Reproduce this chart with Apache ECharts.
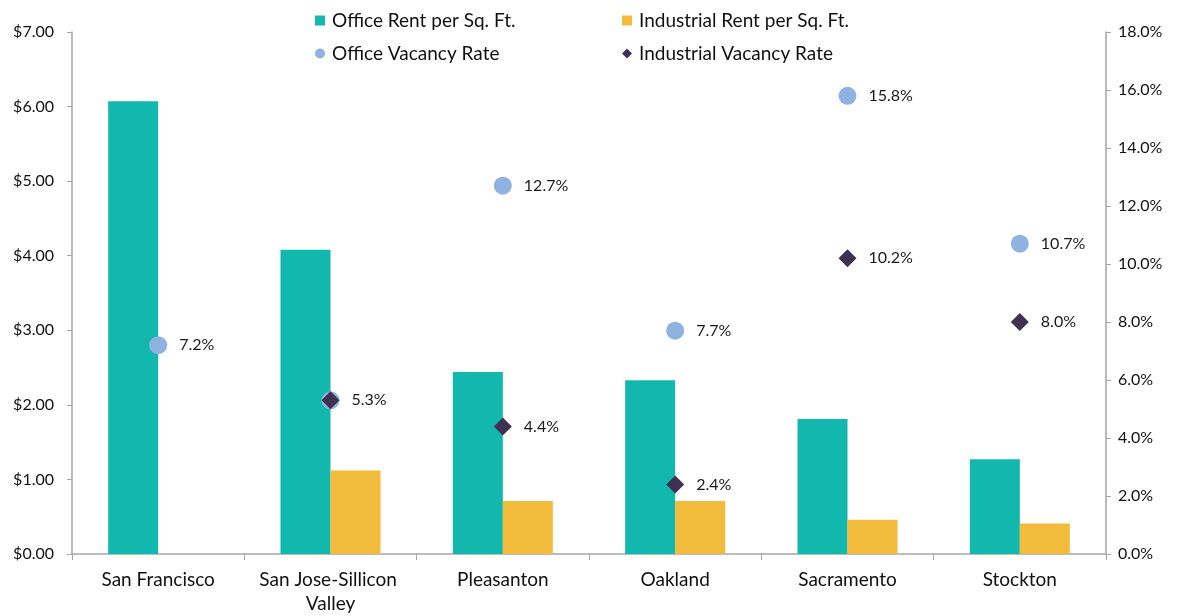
<!DOCTYPE html>
<html><head><meta charset="utf-8">
<script src="https://cdn.jsdelivr.net/npm/echarts@6/dist/echarts.min.js"></script>
<style>html,body{margin:0;padding:0;background:#fff}#c{width:1177px;height:616px}</style>
</head><body><div id="c"></div>
<script>
const categories = ['San Francisco', 'San Jose-Sillicon Valley', 'Pleasanton', 'Oakland', 'Sacramento', 'Stockton'];
const officeRent = [6.07, 4.08, 2.44, 2.33, 1.81, 1.27];
const industrialRent = [null, 1.12, 0.71, 0.71, 0.46, 0.41];
const officeVacancy = [7.2, 5.3, 12.7, 7.7, 15.8, 10.7];
const industrialVacancy = [null, 5.3, 4.4, 2.4, 10.2, 8.0];

const FONT = 'Lato';
const chart = echarts.init(document.getElementById('c'));
const lblStyle = {show: true, position: 'right', distance: 12, fontFamily: FONT, fontSize: 16, color: '#1a1a1a',
  formatter: p => p.value == null ? '' : Number(p.value).toFixed(1) + '%'};
const leg = (name, left, top, icon) => ({
  data: [{name, icon}], left, top, itemWidth: 10, itemHeight: 10, itemGap: 0,
  textStyle: {fontFamily: FONT, fontSize: 19, color: '#111', padding: [0, 0, 0, 2]}, selectedMode: false
});
// hide office-vacancy label where it coincides with the industrial one
const officeVacData = officeVacancy.map((v, i) => v === industrialVacancy[i] ? {value: v, label: {show: false}} : v);
chart.setOption({
  animation: false,
  textStyle: {fontFamily: FONT},
  legend: [
    leg('Office Rent per Sq. Ft.', 310, 6, 'rect'),
    leg('Industrial Rent per Sq. Ft.', 617, 6, 'rect'),
    leg('Office Vacancy Rate', 310, 39, 'circle'),
    leg('Industrial Vacancy Rate', 617, 39, 'diamond')
  ],
  grid: {left: 72, right: 71, top: 32, bottom: 62},
  xAxis: {
    type: 'category', data: categories,
    axisLine: {lineStyle: {color: '#A6A6A6', width: 1.5}},
    axisTick: {show: true, length: 6, lineStyle: {color: '#A6A6A6'}},
    axisLabel: {interval: 0, fontFamily: FONT, fontSize: 19, color: '#111', margin: 14, width: 170, overflow: 'break', lineHeight: 24}
  },
  yAxis: [
    {type: 'value', min: 0, max: 7, interval: 1,
     axisLine: {show: true, lineStyle: {color: '#A6A6A6', width: 1.5}},
     axisTick: {show: true, length: 5, lineStyle: {color: '#A6A6A6'}},
     splitLine: {show: false},
     axisLabel: {fontFamily: FONT, fontSize: 16, color: '#111', margin: 18, formatter: v => '$' + v.toFixed(2)}},
    {type: 'value', min: 0, max: 18, interval: 2, position: 'right',
     axisLine: {show: true, lineStyle: {color: '#A6A6A6', width: 1.5}},
     axisTick: {show: true, length: 5, lineStyle: {color: '#A6A6A6'}},
     splitLine: {show: false},
     axisLabel: {fontFamily: FONT, fontSize: 16, color: '#111', margin: 12, formatter: v => v.toFixed(1) + '%'}}
  ],
  series: [
    {name: 'Office Rent per Sq. Ft.', type: 'bar', data: officeRent, barWidth: 50, barGap: '0%',
     itemStyle: {color: '#12B8AE'}},
    {name: 'Industrial Rent per Sq. Ft.', type: 'bar', data: industrialRent, barWidth: 50, barGap: '0%',
     itemStyle: {color: '#F3BB3C'}},
    {name: 'Office Vacancy Rate', type: 'scatter', yAxisIndex: 1, data: officeVacData, symbol: 'circle', symbolSize: 18,
     itemStyle: {color: '#8EB3E1', opacity: 1}, label: lblStyle, z: 3},
    {name: 'Industrial Vacancy Rate', type: 'scatter', yAxisIndex: 1, data: industrialVacancy, symbol: 'diamond', symbolSize: 18,
     itemStyle: {color: '#3E3152', opacity: 1}, label: lblStyle, z: 4}
  ]
});
</script></body></html>
